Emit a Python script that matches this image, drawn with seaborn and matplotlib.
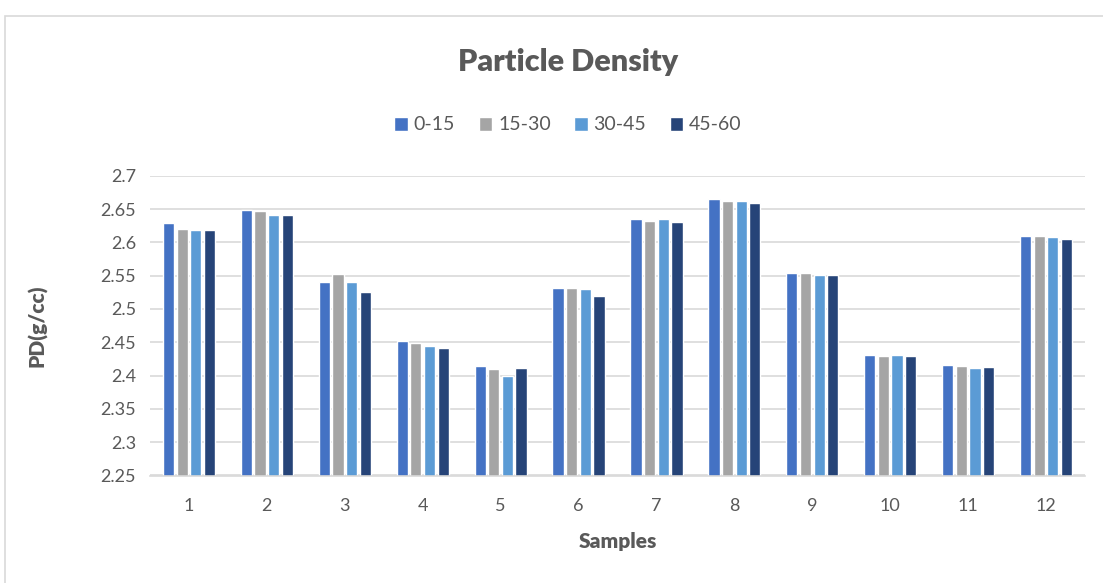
import numpy as np
import pandas as pd
import matplotlib
matplotlib.use("Agg")
import matplotlib.pyplot as plt
import seaborn as sns
from matplotlib.patches import Rectangle

samples = [str(i) for i in range(1, 13)]
depths = ["0-15", "15-30", "30-45", "45-60"]
pd_0_15 = [2.629, 2.648, 2.541, 2.452, 2.414, 2.532, 2.635, 2.665, 2.554, 2.431, 2.416, 2.610]
pd_15_30 = [2.620, 2.647, 2.553, 2.449, 2.410, 2.532, 2.632, 2.662, 2.554, 2.429, 2.414, 2.610]
pd_30_45 = [2.619, 2.641, 2.540, 2.445, 2.400, 2.530, 2.635, 2.662, 2.551, 2.431, 2.411, 2.608]
pd_45_60 = [2.619, 2.641, 2.526, 2.441, 2.412, 2.519, 2.631, 2.659, 2.551, 2.429, 2.413, 2.605]
colors = ["#4472C4", "#A5A5A5", "#5B9BD5", "#264478"]
yticks = [2.25, 2.3, 2.35, 2.4, 2.45, 2.5, 2.55, 2.6, 2.65, 2.7]

df = pd.DataFrame({
    "Samples": samples * 4,
    "PD": pd_0_15 + pd_15_30 + pd_30_45 + pd_45_60,
    "Depth": sum([[d] * 12 for d in depths], []),
})

sns.set_theme(style="white")
plt.rcParams['font.family'] = ['Lato', 'DejaVu Sans']
txt = "#595959"

fig = plt.figure(figsize=(11.03, 5.83), dpi=100)
fig.patches.append(Rectangle((5 / 1103, -0.1), 1.2, 1 - 16 / 583 + 0.1, transform=fig.transFigure,
                             fill=False, edgecolor="#D9D9D9", linewidth=1.2))
ax = fig.add_axes([150 / 1103, 1 - 475.5 / 583, 935 / 1103, 299.8 / 583])

sns.barplot(data=df, x="Samples", y="PD", hue="Depth", palette=colors, ax=ax,
            width=0.7, gap=0.18, saturation=1, legend=True)

ax.set_ylim(2.25, 2.7)
ax.set_yticks(yticks)
ax.set_yticklabels([f"{v:g}" for v in yticks])
ax.grid(axis="y", color="#D9D9D9", linewidth=1.2)
ax.set_axisbelow(True)
for s in ["top", "right", "left"]:
    ax.spines[s].set_visible(False)
ax.spines["bottom"].set_color("#D9D9D9")
ax.spines["bottom"].set_linewidth(1.2)
ax.tick_params(axis="both", length=0, labelsize=13, colors=txt)
ax.tick_params(axis="x", pad=16)
ax.tick_params(axis="y", pad=10)
ax.set_xlabel("Samples", fontsize=15, fontweight="heavy", color=txt, labelpad=13)
ax.set_ylabel("PD(g/cc)", fontsize=15, fontweight="heavy", color=txt, labelpad=38)

fig.text(0.515, 1 - 62 / 583, "Particle Density", ha="center", va="center",
         fontsize=22, fontweight="heavy", color=txt)

handles, labels = ax.get_legend_handles_labels()
ax.legend(handles, labels, loc="center", bbox_to_anchor=(0.515, 1 - 125 / 583),
          bbox_transform=fig.transFigure, ncol=4, frameon=False, fontsize=14,
          handlelength=0.7, handleheight=0.7, handletextpad=0.3, columnspacing=1.2,
          labelcolor=txt)

fig.savefig("out.png", dpi=100)
